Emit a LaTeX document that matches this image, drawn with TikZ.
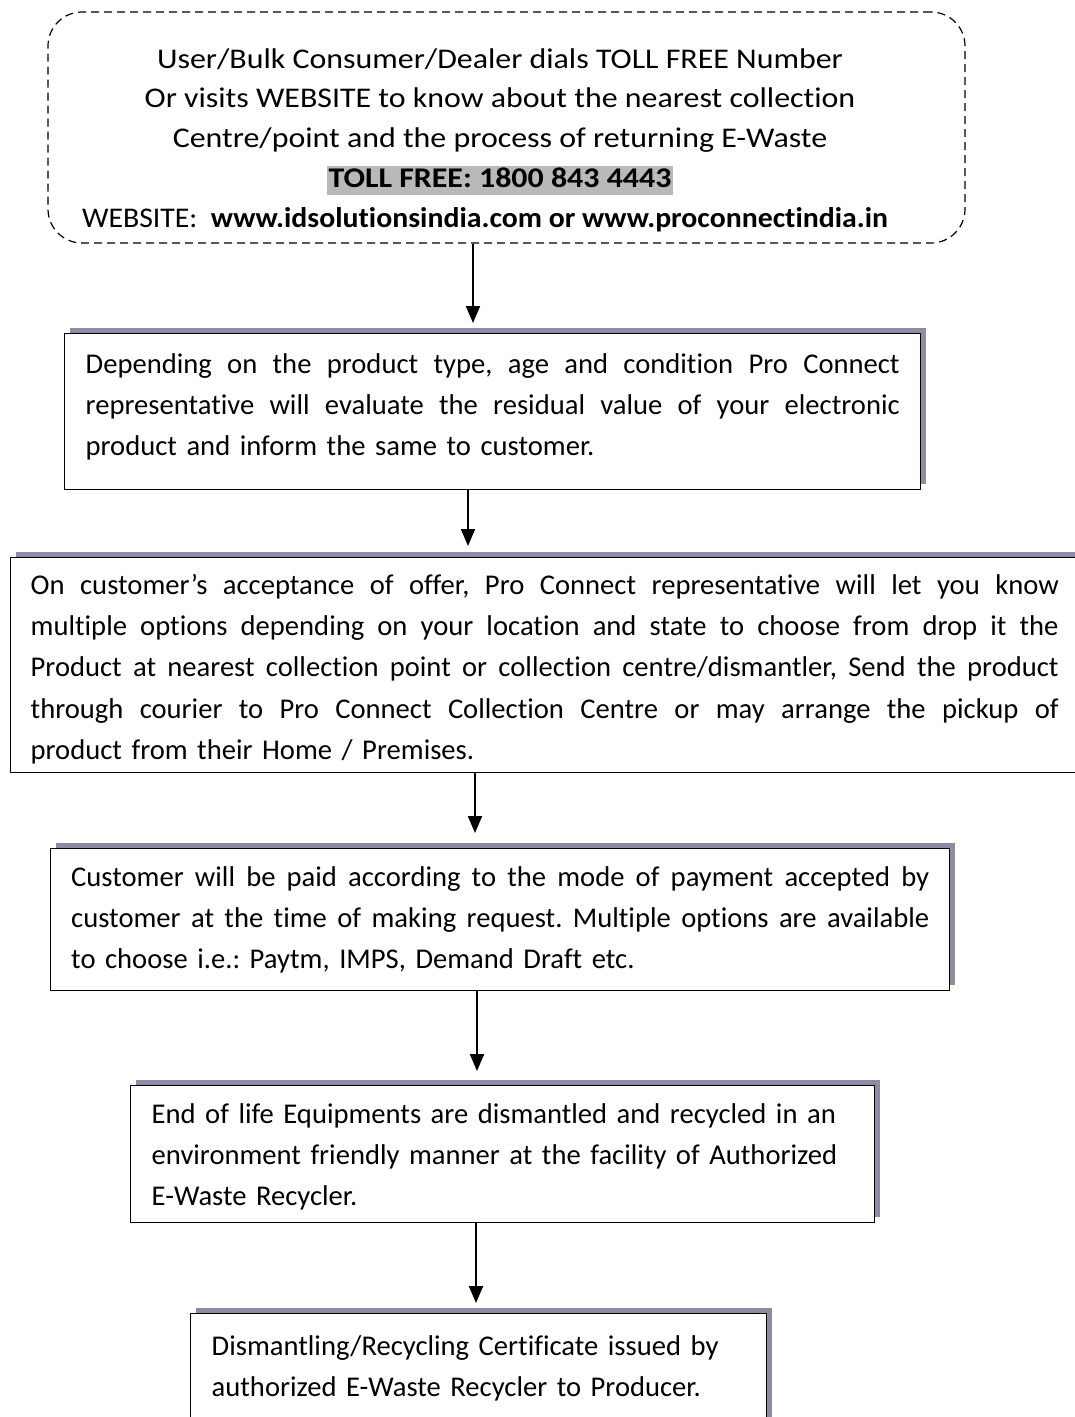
\documentclass[tikz,border=0pt]{standalone}
\usepackage{fontspec}
\setmainfont{Carlito}[Ligatures=NoCommon]
\newfontfamily\widefont{Carlito}[Ligatures=NoCommon, FakeStretch=1.12]
\newfontfamily\webfont{Carlito}[Ligatures=NoCommon, FakeStretch=1.045]
\usetikzlibrary{arrows.meta,shadows,fit}
\definecolor{shadowgray}{RGB}{140,140,165}
\definecolor{hlgray}{RGB}{185,185,185}
\frenchspacing
\newdimen\linewd
\newcommand\jline[1]{\hbox to\linewd{\spaceskip=0.23em plus 1.5em minus 0.05em\relax #1}}
\newcommand\nline[1]{\hbox{#1}}
\begin{document}
\begin{tikzpicture}[x=1pt,y=-1pt,
  toptxt/.style={font=\widefont\fontsize{28.5}{39.7}\selectfont},
  txt/.style={font=\fontsize{28.6}{41.3}\selectfont},
  procbox/.style={txt, draw, line width=1.4pt, fill=white, anchor=north west,
    inner xsep=20pt, inner ysep=0pt,
    general shadow={shadow xshift=5pt, shadow yshift=6pt, fill=shadowgray}},
  dashbox/.style={draw, line width=1.2pt, dash pattern=on 8pt off 5pt,
    rounded corners=34pt, inner sep=0pt},
  arr/.style={line width=2pt, -{Triangle[length=17pt,width=14pt]}}]
\useasboundingbox (0,0) rectangle (1075,1417);
\clip (0,0) rectangle (1075,1417);
\fill[white] (0,0) rectangle (1075,1417);

% top dashed box
\coordinate (tl) at (48,12);
\coordinate (br) at (965,243);
\node[dashbox, fit=(tl)(br)] (topbox) {};
\node[toptxt, align=center, inner sep=0pt] (toptext) at (500,140) {%
User/Bulk Consumer/Dealer dials TOLL FREE Number\\
Or visits WEBSITE to know about the nearest collection\\
Centre/point and the process of returning E-Waste\\
{\setlength{\fboxsep}{1.5pt}\colorbox{hlgray}{\rule[-0.23em]{0pt}{0.9em}\textbf{TOLL FREE: 1800 843 4443}}}\\
{\webfont WEBSITE:\ \ \textbf{www.idsolutionsindia.com or www.proconnectindia.in}}\hspace{30pt}\mbox{}};

% process boxes
\node[procbox, text width=814pt, minimum width=856pt, minimum height=156pt] (b2) at (64,333) {\vbox{\linewd=814pt
\jline{Depending on the product type, age and condition Pro Connect}%
\jline{representative will evaluate the residual value of your electronic}%
\nline{product and inform the same to customer.}\kern10pt}};

\node[procbox, text width=1028pt, minimum width=1068pt, minimum height=215pt] (b3) at (10,557) {\vbox{\linewd=1028pt
\kern8pt
\jline{On customer’s acceptance of offer, Pro Connect representative will let you know}%
\jline{multiple options depending on your location and state to choose from drop it the}%
\jline{Product at nearest collection point or collection centre/dismantler, Send the product}%
\jline{through courier to Pro Connect Collection Centre or may arrange the pickup of}%
\nline{product from their Home / Premises.}}};

\node[procbox, text width=858pt, minimum width=899pt, minimum height=142pt] (b4) at (50,848) {\vbox{\linewd=858pt
\jline{Customer will be paid according to the mode of payment accepted by}%
\jline{customer at the time of making request. Multiple options are available}%
\nline{to choose i.e.: Paytm, IMPS, Demand Draft etc.}}};

\node[procbox, text width=702pt, minimum width=744pt, minimum height=137pt] (b5) at (130,1085) {\vbox{\kern5pt
\nline{End of life Equipments are dismantled and recycled in an}%
\nline{environment friendly manner at the facility of Authorized}%
\nline{E-Waste Recycler.}}};

\node[procbox, text width=534pt, minimum width=576pt, minimum height=109pt] (b6) at (190,1313) {\vbox{%
\nline{Dismantling/Recycling Certificate issued by}%
\nline{authorized E-Waste Recycler to Producer.}}};

% connectors
\coordinate (a1) at (473,0);
\coordinate (a2) at (468,0);
\coordinate (a3) at (475,0);
\coordinate (a4) at (477,0);
\coordinate (a5) at (476,0);
\draw[arr, shorten >=10pt] (topbox.south -| a1) -- (b2.north -| a1);
\draw[arr, shorten >=11pt] (b2.south -| a2) -- (b3.north -| a2);
\draw[arr, shorten >=15pt] (b3.south -| a3) -- (b4.north -| a3);
\draw[arr, shorten >=14pt] (b4.south -| a4) -- (b5.north -| a4);
\draw[arr, shorten >=10pt] (b5.south -| a5) -- (b6.north -| a5);
\end{tikzpicture}
\end{document}
